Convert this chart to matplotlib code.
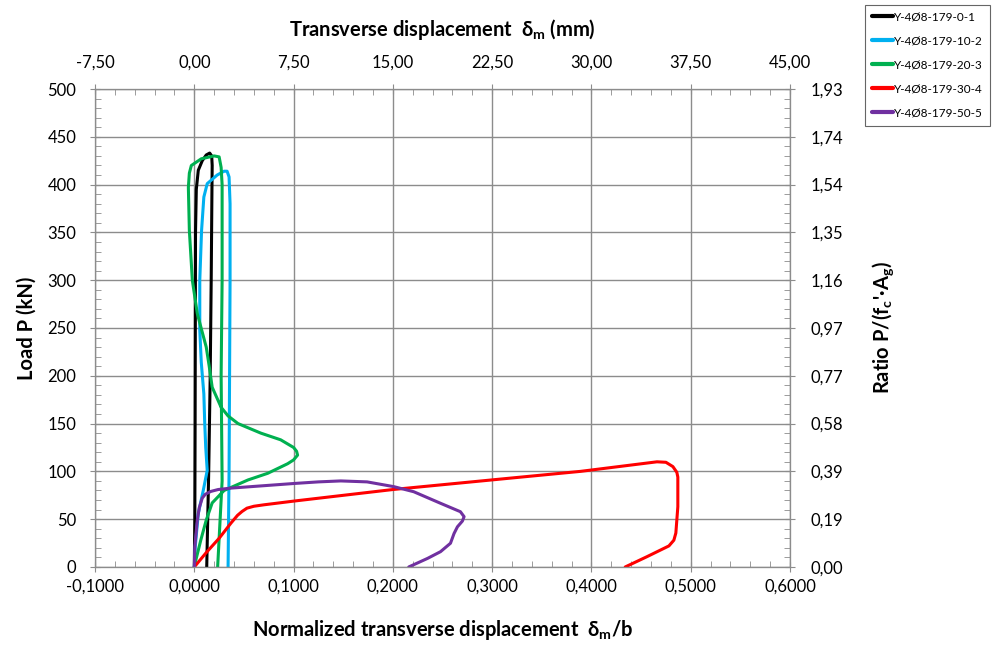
import numpy as np
import matplotlib
matplotlib.use('Agg')
import matplotlib.pyplot as plt
from matplotlib.ticker import MultipleLocator, FuncFormatter

plt.rcParams['font.family'] = ['Lato', 'DejaVu Sans']
plt.rcParams['mathtext.default'] = 'regular'

# **** data (normalized displacement, load kN) ****
labels = ['Y-4Ø8-179-0-1', 'Y-4Ø8-179-10-2', 'Y-4Ø8-179-20-3',
          'Y-4Ø8-179-30-4', 'Y-4Ø8-179-50-5']
colors = ['#000000', '#00b0f0', '#00b050', '#ff0000', '#7030a0']

x_01 = [0, 0.0005, 0.0008, 0.001, 0.0012, 0.002, 0.004, 0.008, 0.012, 0.0155,
        0.0175, 0.018, 0.0178, 0.017, 0.016, 0.0145, 0.0135, 0.0125]
p_01 = [0, 50, 150, 250, 350, 395, 415, 425, 431, 433,
        430, 420, 400, 300, 200, 100, 50, 0]

x_10 = [0, 0.001, 0.004, 0.009, 0.013, 0.0115, 0.0105, 0.0096, 0.007, 0.0055,
        0.0055, 0.0073, 0.0096, 0.013, 0.023, 0.030, 0.033, 0.035, 0.036,
        0.036, 0.0355, 0.035, 0.034]
p_10 = [0, 22, 56, 80, 101, 125, 150, 181, 214, 248,
        300, 352, 387, 401, 410, 414, 414, 408, 380,
        300, 200, 100, 0]

x_20 = [0, 0.0015, 0.0065, 0.012, 0.018, 0.030, 0.054, 0.074, 0.094, 0.100,
        0.104, 0.103, 0.100, 0.087, 0.067, 0.044, 0.034, 0.027, 0.018, 0.015,
        0.012, 0.003, -0.002, -0.005, -0.006, -0.005, -0.003, 0.007, 0.020,
        0.025, 0.027, 0.028, 0.028, 0.027, 0.028, 0.026, 0.0235]
p_20 = [0, 7, 28, 49, 67, 80, 91, 98, 108, 112,
        117, 121, 125, 133, 140, 150, 158, 167, 188, 210,
        230, 265, 300, 352, 397, 412, 420, 427, 430,
        429, 418, 400, 300, 200, 90, 50, 0]

x_30 = [0, 0.012, 0.025, 0.037, 0.0435, 0.048, 0.053, 0.06, 0.07, 0.101,
        0.2, 0.319, 0.389, 0.466, 0.475, 0.482, 0.486, 0.487, 0.487, 0.485,
        0.483, 0.478, 0.456, 0.434]
p_30 = [0, 15, 30, 46, 54, 58, 61.5, 63.5, 65, 69,
        81, 93, 100, 110, 109.5, 105, 99, 94, 63, 35.5,
        28, 22, 10.8, 0]

x_50 = [0, 0.0005, 0.003, 0.005, 0.008, 0.011, 0.0166, 0.024, 0.037, 0.1015,
        0.125, 0.1475, 0.174, 0.201, 0.221, 0.248, 0.268, 0.2717, 0.27, 0.265,
        0.2616, 0.258, 0.248, 0.235, 0.216]
p_50 = [0, 21, 49, 62, 72, 76, 79, 81, 82.5, 87.4,
        89, 90, 89, 84, 78.7, 66.6, 57.8, 52.6, 48, 42,
        35, 24.8, 16, 9, 0]

b = 75.0         # mm, top axis scale
area_fc = 259.0  # kN, right axis scale

# **** plot ****
fig = plt.figure(figsize=(9.92, 6.45), dpi=100)
ax = fig.add_axes([0.0958, 0.121, 0.7006, 0.741])

series = [(x_01, p_01), (x_10, p_10), (x_20, p_20), (x_30, p_30), (x_50, p_50)]
for (xs, ps), lab, c in zip(series, labels, colors):
    ax.plot(xs, ps, color=c, lw=2.2, label=lab, solid_joinstyle='round',
            solid_capstyle='round')

gray = '#8c8c8c'
lab_kw = dict(fontsize=14.5, fontweight='bold')
ax.set_xlim(-0.1, 0.6)
ax.set_ylim(0, 500)
ax.xaxis.set_major_locator(MultipleLocator(0.1))
ax.xaxis.set_minor_locator(MultipleLocator(0.02))
ax.yaxis.set_major_locator(MultipleLocator(50))
ax.yaxis.set_minor_locator(MultipleLocator(10))
ax.xaxis.set_major_formatter(FuncFormatter(lambda v, p: f'{v:.4f}'.replace('.', ',')))
ax.grid(True, which='major', color=gray, lw=1.0)
ax.set_axisbelow(True)
for s in ax.spines.values():
    s.set_color(gray)
ax.tick_params(which='major', direction='inout', length=7, color=gray, labelsize=12)
ax.tick_params(axis='x', which='major', pad=5)
ax.tick_params(axis='y', which='major', pad=10)
ax.tick_params(which='minor', direction='in', length=4, color=gray)
ax.set_xlabel('Normalized transverse displacement  δ$_m$/b', labelpad=17, **lab_kw)
ax.set_ylabel('Load P (kN)', labelpad=8, **lab_kw)

# top axis in mm
axt = ax.twiny()
axt.set_xlim(-0.1 * b, 0.6 * b)
axt.xaxis.set_major_locator(MultipleLocator(7.5))
axt.xaxis.set_minor_locator(MultipleLocator(1.5))
axt.xaxis.set_major_formatter(FuncFormatter(lambda v, p: f'{v:.2f}'.replace('.', ',')))
axt.tick_params(which='major', direction='inout', length=7, color=gray, labelsize=12, pad=10)
axt.tick_params(which='minor', direction='in', length=4, color=gray)
axt.set_xlabel('Transverse displacement  δ$_m$ (mm)', labelpad=13, **lab_kw)
for s in axt.spines.values():
    s.set_color(gray)

# right axis as ratio
axr = ax.twinx()
axr.set_ylim(0, 500)
axr.yaxis.set_major_locator(MultipleLocator(50))
axr.yaxis.set_minor_locator(MultipleLocator(10))
axr.yaxis.set_major_formatter(FuncFormatter(lambda v, p: f'{v / area_fc:.2f}'.replace('.', ',')))
axr.tick_params(which='major', direction='inout', length=7, color=gray, labelsize=12, pad=11)
axr.tick_params(which='minor', direction='in', length=4, color=gray)
axr.set_ylabel("Ratio P/(f$_c$'·A$_g$)", labelpad=20, **lab_kw)
for s in axr.spines.values():
    s.set_color(gray)

handles, labs = ax.get_legend_handles_labels()
leg = fig.legend(handles, labs, loc='upper right', bbox_to_anchor=(0.998, 0.993),
                 fontsize=8.5, handlelength=1.8, handletextpad=0.1, labelspacing=1.1,
                 borderpad=0.6, frameon=True, fancybox=False, borderaxespad=0)
leg.get_frame().set_edgecolor('#404040')
leg.get_frame().set_linewidth(0.8)
for line in leg.get_lines():
    line.set_linewidth(3.0)

fig.savefig('out.png', dpi=100)
